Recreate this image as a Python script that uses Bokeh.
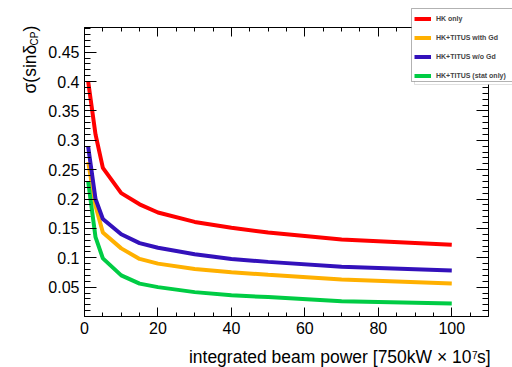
import math
from bokeh.plotting import figure
from bokeh.models import (Range1d, FixedTicker, LinearAxis, Label, Legend,
                          LegendItem, BoxAnnotation)
from bokeh.embed import file_html
from bokeh.resources import INLINE

# ---- data ----
power = [1, 3, 5, 10, 15, 20, 30, 40, 50, 70, 100]
hk_only = [0.400, 0.310, 0.253, 0.210, 0.191, 0.177, 0.161, 0.151, 0.143, 0.131, 0.122]
hk_titus_gd = [0.263, 0.188, 0.143, 0.116, 0.098, 0.090, 0.081, 0.0755, 0.071, 0.063, 0.056]
hk_titus_nogd = [0.289, 0.200, 0.166, 0.140, 0.125, 0.117, 0.106, 0.098, 0.093, 0.0845, 0.0785]
hk_titus_stat = [0.230, 0.135, 0.099, 0.070, 0.056, 0.050, 0.0415, 0.036, 0.033, 0.026, 0.022]

series_names = ["HK only", "HK+TITUS with Gd", "HK+TITUS w/o Gd", "HK+TITUS (stat only)"]
series_colors = ["#ff0000", "#ffb000", "#3311bb", "#00cc44"]

x_ticks = [0, 20, 40, 60, 80, 100]
x_tick_labels = ["0", "20", "40", "60", "80", "100"]
x_minor = [0, 5, 10, 15, 20, 25, 30, 35, 40, 45, 50, 55, 60, 65, 70, 75, 80, 85, 90, 95, 100, 105, 110]
y_ticks = [0.05, 0.1, 0.15, 0.2, 0.25, 0.3, 0.35, 0.4, 0.45]
y_tick_labels = ["0.05", "0.1", "0.15", "0.2", "0.25", "0.3", "0.35", "0.4", "0.45"]
y_minor = [round(i * 0.01, 2) for i in range(0, 50)]

X_MIN, X_MAX = 0, 110
Y_MIN, Y_MAX = 0, 0.492

# ---- layout (canvas pixels) ----
W, H = 512, 367
FL, FR, FT, FB = 84, 488, 27, 316   # plotting box edges on the canvas
px_x = (FR - FL) / (X_MAX - X_MIN)
px_y = (FB - FT) / (Y_MAX - Y_MIN)
x_range = Range1d(X_MIN - FL / px_x, X_MAX + (W - FR) / px_x)
y_range = Range1d(Y_MIN - (H - FB) / px_y, Y_MAX + FT / px_y)

FONT = "Liberation Sans"

p = figure(width=W, height=H, output_backend="svg", toolbar_location=None,
           x_range=x_range, y_range=y_range,
           x_axis_type=None, y_axis_type=None, min_border=0)
p.outline_line_color = None
p.background_fill_color = "white"
p.border_fill_color = "white"


def make_axis(is_x, show_labels, loc):
    ax = LinearAxis(fixed_location=loc)
    if is_x:
        ax.ticker = FixedTicker(ticks=x_ticks, minor_ticks=x_minor)
        ax.major_label_overrides = dict(zip(x_ticks, x_tick_labels))
        ax.bounds = (X_MIN, X_MAX)
        ax.major_tick_in = 9
        ax.minor_tick_in = 4
    else:
        ax.ticker = FixedTicker(ticks=y_ticks, minor_ticks=y_minor)
        ax.major_label_overrides = dict(zip(y_ticks, y_tick_labels))
        ax.bounds = (Y_MIN, Y_MAX)
        ax.major_tick_in = 12
        ax.minor_tick_in = 6
    ax.major_tick_out = 0
    ax.minor_tick_out = 0
    ax.axis_line_color = "black"
    ax.axis_line_width = 1
    ax.major_tick_line_color = "black"
    ax.minor_tick_line_color = "black"
    ax.major_label_text_font = FONT
    ax.major_label_text_color = "black"
    if show_labels:
        ax.major_label_text_font_size = "16px"
        ax.major_label_standoff = 5
    else:
        ax.major_label_text_font_size = "1px"
        ax.major_label_text_color = None
        ax.major_label_standoff = 0
    return ax


p.add_layout(make_axis(True, True, Y_MIN), "below")
p.add_layout(make_axis(False, True, X_MIN), "left")
p.add_layout(make_axis(True, False, Y_MAX), "above")
p.add_layout(make_axis(False, False, X_MAX), "right")

series = [hk_only, hk_titus_gd, hk_titus_nogd, hk_titus_stat]
renderers = []
for ys, col in zip(series, series_colors):
    renderers.append(p.line(power, ys, line_width=4, line_color=col))

# legend frame + shadow (screen units: from bottom-left of canvas)
def sy(cy):
    return H - cy

shadow = BoxAnnotation(left=414, right=700, top=sy(11), bottom=sy(84),
                       left_units="screen", right_units="screen",
                       top_units="screen", bottom_units="screen",
                       fill_color="white", fill_alpha=1.0,
                       line_color="#999999", line_width=1)
box = BoxAnnotation(left=411, right=700, top=sy(8), bottom=sy(81),
                    left_units="screen", right_units="screen",
                    top_units="screen", bottom_units="screen",
                    fill_color="white", fill_alpha=1.0,
                    line_color="black", line_width=1)
p.add_layout(shadow)
p.add_layout(box)

legend = Legend(items=[LegendItem(label=n, renderers=[r]) for n, r in zip(series_names, renderers)],
                location=(414, sy(85)), orientation="vertical",
                padding=0, margin=0, spacing=0,
                label_height=19, glyph_height=19, glyph_width=17, label_standoff=5,
                label_text_font=FONT, label_text_font_style="bold", label_text_font_size="7px",
                border_line_color=None, background_fill_alpha=0)
p.add_layout(legend)

# y axis title: sigma(sin delta_CP)
p.add_layout(Label(x=29, y=sy(93), x_units="screen", y_units="screen", text="σ(sinδ",
                   angle=math.pi / 2, text_align="left", text_baseline="alphabetic",
                   text_font=FONT, text_font_size="17.5px", text_color="black"))
p.add_layout(Label(x=34, y=sy(45), x_units="screen", y_units="screen", text="CP",
                   angle=math.pi / 2, text_align="left", text_baseline="alphabetic",
                   text_font=FONT, text_font_size="10px", text_color="black"))
p.add_layout(Label(x=29, y=sy(31), x_units="screen", y_units="screen", text=")",
                   angle=math.pi / 2, text_align="left", text_baseline="alphabetic",
                   text_font=FONT, text_font_size="17.5px", text_color="black"))

# x axis title
p.add_layout(Label(x=471, y=sy(356), x_units="screen", y_units="screen",
                   text="integrated beam power [750kW × 10", text_align="right",
                   text_baseline="alphabetic", text_font=FONT, text_font_size="17.5px",
                   text_color="black"))
p.add_layout(Label(x=471.5, y=sy(354.5), x_units="screen", y_units="screen", text="7",
                   text_align="left", text_baseline="alphabetic", text_font=FONT,
                   text_font_size="10px", text_color="black"))
p.add_layout(Label(x=476.5, y=sy(356), x_units="screen", y_units="screen", text="s]",
                   text_align="left", text_baseline="alphabetic", text_font=FONT,
                   text_font_size="17.5px", text_color="black"))

open("out.html", "w").write(file_html(p, INLINE))
